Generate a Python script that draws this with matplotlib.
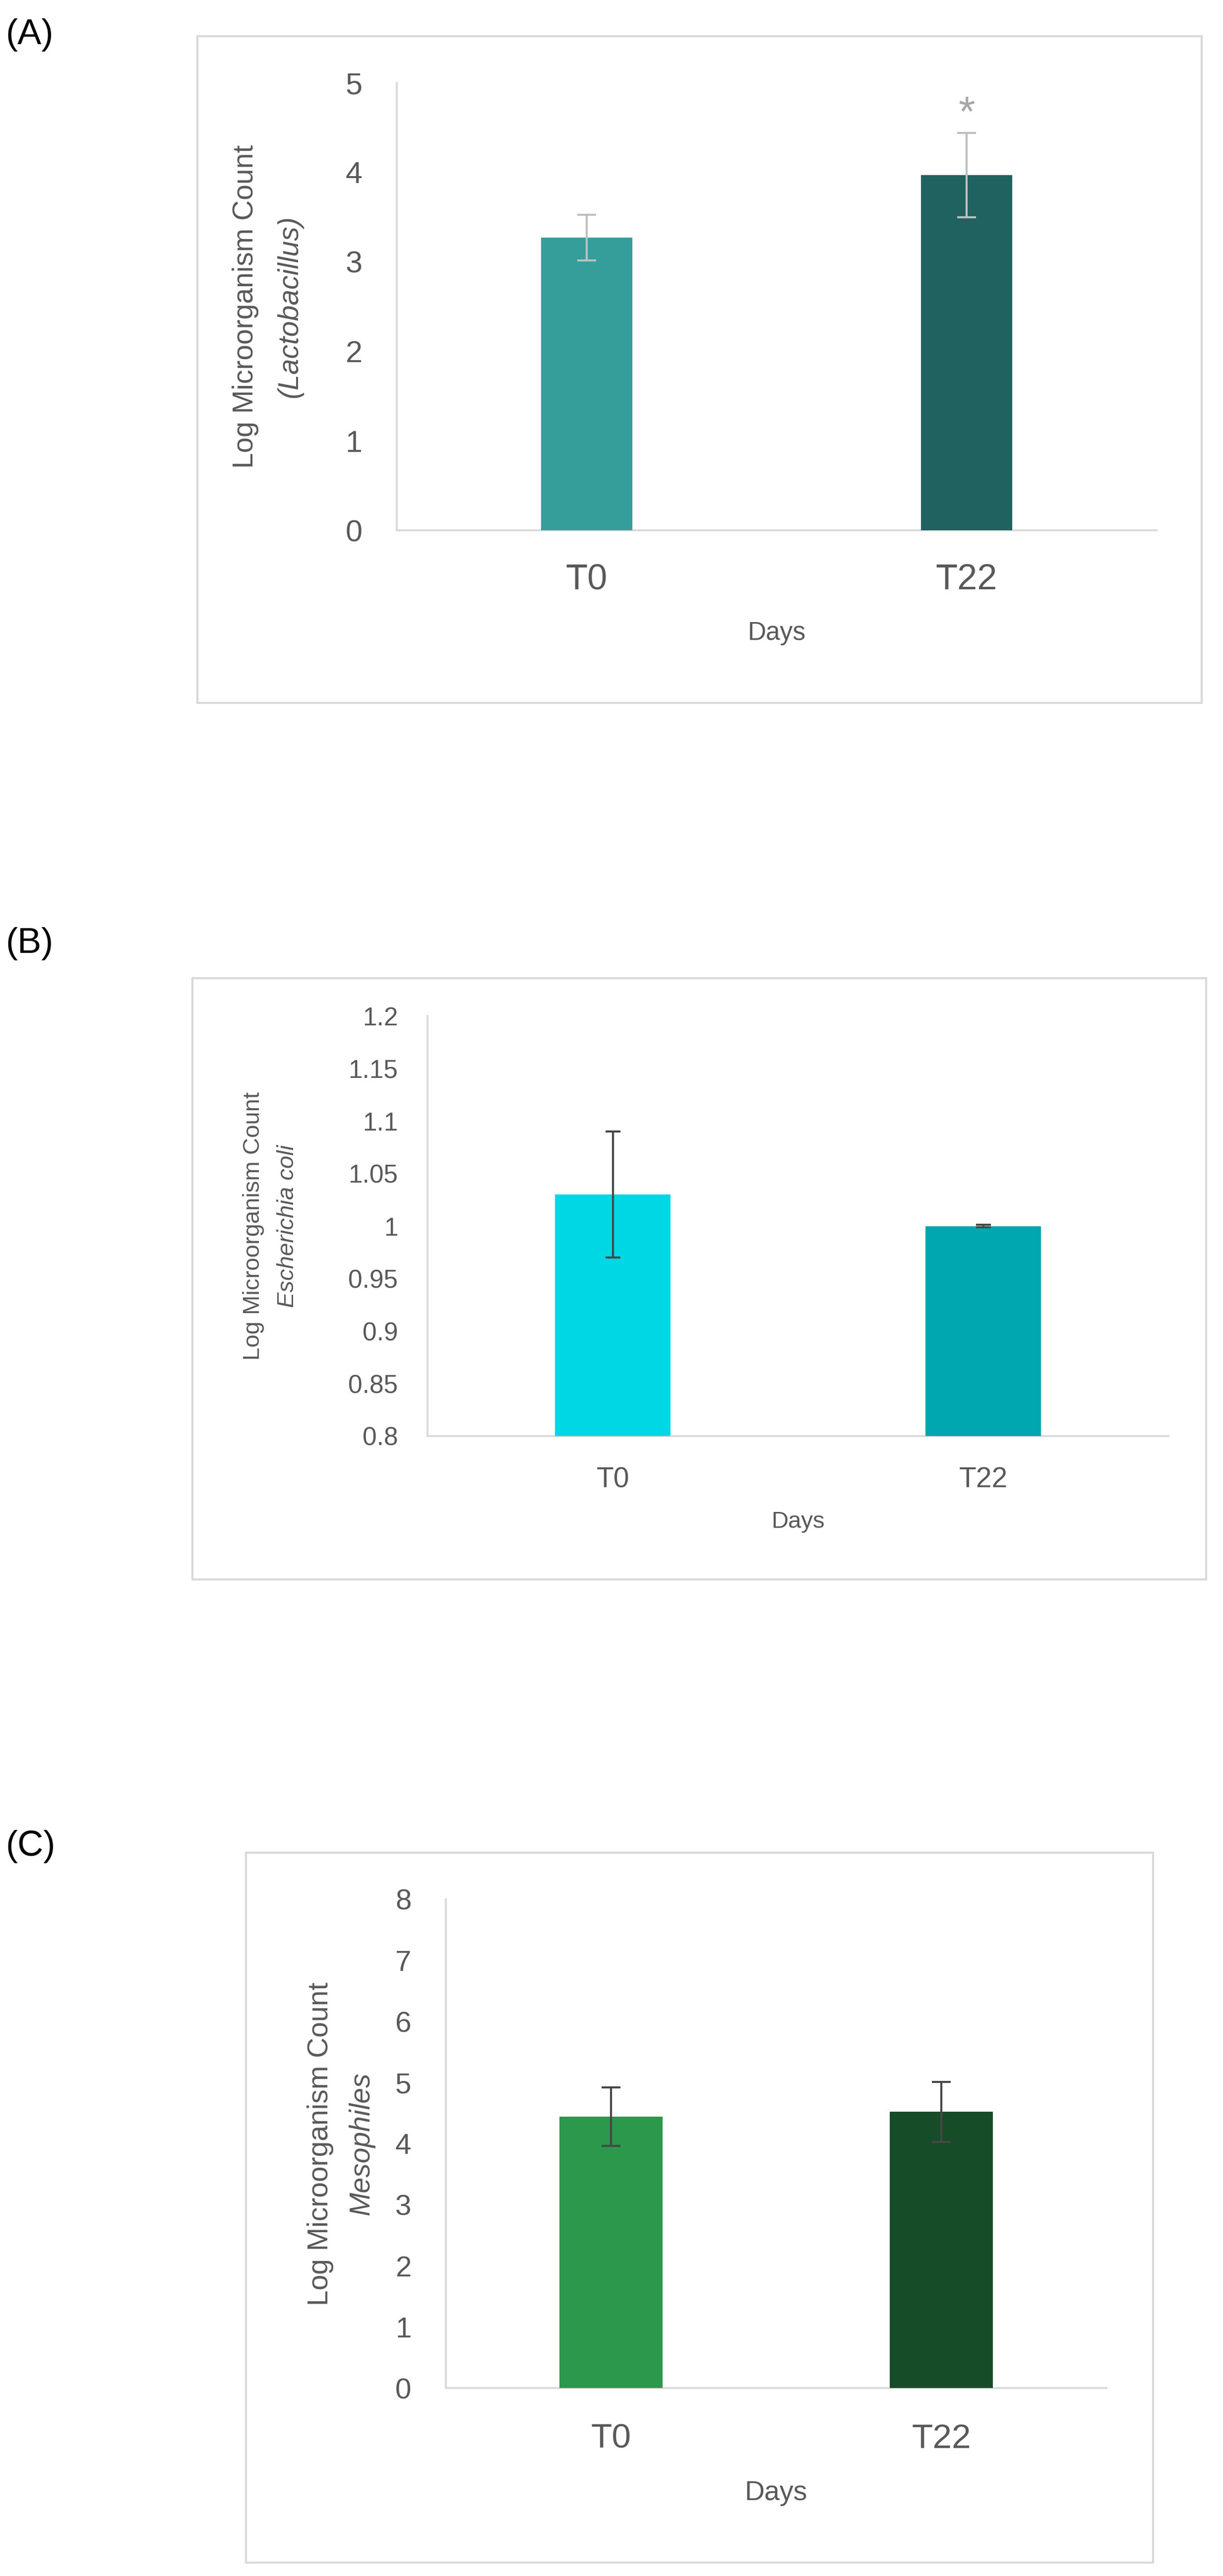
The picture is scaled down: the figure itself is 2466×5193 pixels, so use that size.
import matplotlib
matplotlib.use("Agg")
import matplotlib.pyplot as plt
from matplotlib.patches import Rectangle

plt.rcParams['font.family'] = ['Liberation Sans', 'DejaVu Sans']

# data
days = ['T0', 'T22']
lacto_mean = [3.27, 3.97]
lacto_err = [0.255, 0.47]
ecoli_mean = [1.03, 1.00]
ecoli_err = [0.06, 0.001]
meso_mean = [4.44, 4.52]
meso_err = [0.48, 0.49]

W, H = 2466, 5193
DPI = 100
TXT = '#595959'
LINE = '#D9D9D9'


def fx(px):
    return px / W


def fy(py):
    return 1 - py / H


fig = plt.figure(figsize=(W / DPI, H / DPI), dpi=DPI)
fig.patch.set_facecolor('white')


def panel(letter, letter_y, box, axbox, means, errs, cols, ylim, yticks, ytick_fmt,
          bar_w, err_col, cap, ytick_fs, ytick_pad, xtick_fs, xtick_pad,
          days_fs, days_base, ylab_fs, ylab_x, species):
    # outer frame
    x0, y0, x1, y1 = box
    fig.patches.append(Rectangle((fx(x0), fy(y1)), fx(x1) - fx(x0), fy(y0) - fy(y1),
                                 transform=fig.transFigure, fill=False,
                                 edgecolor='#D9D9D9', linewidth=3.0))
    fig.text(fx(12), fy(letter_y), letter, fontsize=52, ha='left', va='center', color='black')

    l, t, r, b = axbox
    ax = fig.add_axes([fx(l), fy(b), fx(r) - fx(l), fy(t) - fy(b)])
    x = list(range(len(days)))
    ax.bar(x, means, width=bar_w, color=cols, zorder=2)
    ax.errorbar(x, means, yerr=errs, fmt='none', ecolor=err_col, elinewidth=3.0,
                capsize=cap, capthick=3.0, zorder=3)
    ax.set_xlim(-0.5, 1.5)
    ax.set_ylim(*ylim)
    ax.set_yticks(yticks)
    ax.set_yticklabels([ytick_fmt(v) for v in yticks])
    ax.set_xticks(x)
    ax.set_xticklabels(days)
    for s in ['top', 'right']:
        ax.spines[s].set_visible(False)
    for s in ['left', 'bottom']:
        ax.spines[s].set_color(LINE)
        ax.spines[s].set_linewidth(2.8)
        ax.spines[s].set_zorder(1)
    ax.tick_params(axis='y', length=0, pad=ytick_pad, labelsize=ytick_fs, labelcolor=TXT)
    ax.tick_params(axis='x', length=0, pad=xtick_pad, labelsize=xtick_fs, labelcolor=TXT)
    ax.set_facecolor('none')

    cx = fx((l + r) / 2)
    fig.text(cx, fy(days_base), 'Days', fontsize=days_fs, ha='center', va='baseline', color=TXT)
    cy = fy((t + b) / 2)
    fig.text(fx(ylab_x[0]), cy, 'Log Microorganism Count', fontsize=ylab_fs, rotation=90,
             ha='center', va='center', color=TXT)
    fig.text(fx(ylab_x[1]), cy, species, fontsize=ylab_fs, rotation=90, style='italic',
             ha='center', va='center', color=TXT)
    return ax


# (A) Lactobacillus
axA = panel('(A)', 70, (398, 73, 2423, 1417), (800, 167, 2332, 1069),
            lacto_mean, lacto_err, ['#359E9B', '#1F625F'], (0, 5), [0, 1, 2, 3, 4, 5],
            lambda v: '%d' % v, 0.239, '#BFBFBF', 14, 44, 50, 52, 48,
            37, 1290, 41, (495, 584), '(Lactobacillus)')
axA.text(1, lacto_mean[1] + lacto_err[1] + 0.08, '*', fontsize=62, color='#A6A6A6',
         ha='center', va='baseline')

# (B) Escherichia coli
ecoli_ticks = [0.8, 0.85, 0.9, 0.95, 1.0, 1.05, 1.1, 1.15, 1.2]
panel('(B)', 1903, (388, 1972, 2432, 3184), (862, 2048, 2356, 2895),
      ecoli_mean, ecoli_err, ['#00D7E5', '#00A6B0'], (0.8, 1.2), ecoli_ticks,
      lambda v: ('%g' % v), 0.313, '#474747', 11, 37, 43, 41, 44,
      34, 3080, 34, (511, 580), 'Escherichia coli')

# (C) Mesophiles
panel('(C)', 3722, (496, 3735, 2325, 5166), (899, 3829, 2231, 4814),
      meso_mean, meso_err, ['#2B984C', '#174C28'], (0, 8), list(range(9)),
      lambda v: '%d' % v, 0.313, '#474747', 13.5, 42, 50, 50, 51,
      40, 5040, 41, (646, 729), 'Mesophiles')

fig.savefig('out.png', dpi=DPI, facecolor='white')
